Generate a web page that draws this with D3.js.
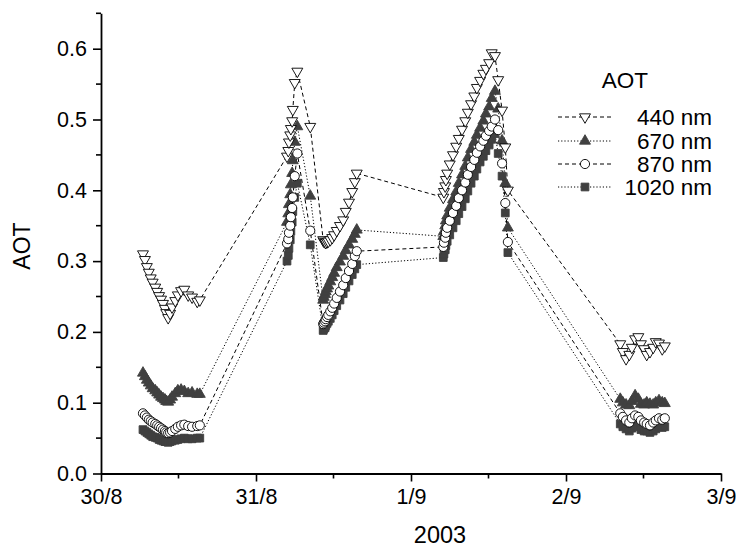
<!DOCTYPE html>
<html>
<head>
<meta charset="utf-8">
<script src="https://cdn.jsdelivr.net/npm/d3@7"></script>
<style>
  html, body { margin: 0; padding: 0; background: #fff; }
  svg { display: block; font-family: "Liberation Sans", Arial, sans-serif; }
</style>
</head>
<body>
<svg id="chart" width="736" height="547"></svg>
<script>
// Hours since 30/8/2003 00:00 (UTC)
const hours = [
  6.5,6.8,7.1,7.4,7.7,8.0,8.4,8.7,9.0,9.3,9.6,9.9,10.1,10.4,10.7,11.0,11.5,11.9,12.4,12.9,13.5,14.1,14.9,15.3,
  28.8,29.0,29.1,29.3,29.4,29.6,29.7,30.0,30.4,32.4,
  34.4,34.5,34.7,34.8,35.0,35.2,35.5,35.8,36.1,36.5,37.0,37.5,37.9,38.4,38.9,39.3,39.6,
  53.0,53.1,53.3,53.4,53.6,54.0,54.5,55.0,55.4,55.9,56.4,56.8,57.3,57.8,58.2,58.7,59.2,59.6,60.1,60.5,61.0,61.5,62.1,62.6,63.0,
  80.4,80.8,81.3,81.8,82.2,82.7,83.2,83.6,84.1,84.5,85.0,85.5,85.9,86.4,86.9,87.3
];
const aot440 = [
  0.31,0.302,0.292,0.284,0.276,0.27,0.263,0.257,0.251,0.246,0.24,0.233,0.227,0.22,0.226,0.235,0.244,0.252,0.258,0.26,0.252,0.249,0.243,0.245,
  0.448,0.456,0.468,0.478,0.487,0.498,0.514,0.552,0.568,0.49,
  0.33,0.328,0.327,0.326,0.327,0.328,0.33,0.333,0.337,0.343,0.35,0.358,0.37,0.383,0.398,0.412,0.424,
  0.39,0.398,0.406,0.415,0.424,0.437,0.45,0.462,0.473,0.486,0.498,0.51,0.522,0.533,0.545,0.555,0.565,0.572,0.58,0.594,0.59,0.556,0.513,0.461,0.40,
  0.183,0.172,0.162,0.168,0.178,0.19,0.193,0.183,0.176,0.168,0.172,0.178,0.186,0.184,0.176,0.18
];
const aot670 = [
  0.142,0.137,0.132,0.128,0.124,0.12,0.117,0.114,0.111,0.108,0.106,0.104,0.102,0.101,0.104,0.108,0.113,0.117,0.118,0.116,0.113,0.114,0.112,0.112,
  0.355,0.367,0.38,0.394,0.408,0.424,0.442,0.468,0.49,0.392,
  0.245,0.249,0.253,0.257,0.261,0.265,0.271,0.277,0.283,0.291,0.299,0.307,0.315,0.323,0.331,0.338,0.344,
  0.335,0.342,0.35,0.357,0.364,0.375,0.387,0.398,0.41,0.422,0.434,0.446,0.458,0.468,0.478,0.488,0.498,0.508,0.518,0.53,0.54,0.515,0.47,0.41,0.347,
  0.105,0.1,0.097,0.096,0.102,0.11,0.105,0.098,0.097,0.1,0.098,0.097,0.1,0.103,0.1,0.099
];
const aot870 = [
  0.085,0.082,0.079,0.076,0.074,0.072,0.07,0.068,0.066,0.064,0.062,0.06,0.058,0.057,0.058,0.06,0.063,0.066,0.068,0.069,0.067,0.066,0.067,0.068,
  0.325,0.331,0.34,0.35,0.362,0.375,0.39,0.42,0.452,0.343,
  0.211,0.213,0.215,0.218,0.221,0.224,0.229,0.234,0.24,0.248,0.257,0.266,0.276,0.286,0.296,0.307,0.314,
  0.32,0.326,0.333,0.34,0.347,0.357,0.368,0.378,0.389,0.4,0.411,0.422,0.433,0.443,0.453,0.462,0.47,0.477,0.484,0.49,0.5,0.485,0.438,0.382,0.327,
  0.085,0.08,0.075,0.072,0.078,0.082,0.08,0.075,0.072,0.07,0.068,0.072,0.075,0.078,0.076,0.078
];
const aot1020 = [
  0.062,0.06,0.058,0.056,0.054,0.052,0.051,0.05,0.048,0.047,0.046,0.045,0.045,0.044,0.045,0.046,0.047,0.048,0.049,0.05,0.049,0.049,0.05,0.05,
  0.30,0.308,0.318,0.33,0.342,0.355,0.37,0.39,0.41,0.323,
  0.202,0.204,0.206,0.209,0.212,0.215,0.219,0.224,0.23,0.237,0.245,0.254,0.263,0.272,0.281,0.289,0.295,
  0.305,0.31,0.316,0.322,0.328,0.337,0.347,0.357,0.367,0.377,0.388,0.399,0.41,0.42,0.43,0.44,0.448,0.456,0.464,0.472,0.48,0.452,0.42,0.368,0.312,
  0.07,0.066,0.063,0.06,0.064,0.068,0.066,0.062,0.06,0.06,0.058,0.06,0.063,0.066,0.065,0.066
];
const seriesNames = ["440 nm", "670 nm", "870 nm", "1020 nm"];
const xTickLabels = ["30/8", "31/8", "1/9", "2/9", "3/9"];
const yTicks = [0.0, 0.1, 0.2, 0.3, 0.4, 0.5, 0.6];
const xTitle = "2003";
const yTitle = "AOT";
const legendTitle = "AOT";

const t0 = Date.UTC(2003, 7, 30);
const toDate = h => new Date(t0 + h * 3600e3);

const svg = d3.select("#chart");
const x = d3.scaleUtc().domain([new Date(t0), toDate(96)]).range([101, 721]);
const y = d3.scaleLinear().domain([0, 0.65]).range([473.5, 13.3]);

const gray = "#404040";
const styles = [
  { values: aot440, dash: "4,3", symbol: d3.symbolTriangle, size: 52, rot: 180, fill: "#fff", stroke: "#000" },
  { values: aot670, dash: "1.2,2", symbol: d3.symbolTriangle, size: 52, rot: 0, fill: gray, stroke: gray },
  { values: aot870, dash: "4,3", symbol: d3.symbolCircle, size: 66, rot: 0, fill: "#fff", stroke: "#000" },
  { values: aot1020, dash: "1.2,2", symbol: d3.symbolSquare, size: 60, rot: 0, fill: gray, stroke: gray }
];

// Lines
const line = d3.line().x((d, i) => x(toDate(hours[i]))).y(d => y(d));
styles.forEach(s => {
  svg.append("path")
    .attr("d", line(s.values))
    .attr("fill", "none")
    .attr("stroke", "#000")
    .attr("stroke-width", 1)
    .attr("stroke-dasharray", s.dash);
});

// Markers (draw order: 1020, 670, 870, 440)
[3, 1, 2, 0].forEach(k => {
  const s = styles[k];
  const sym = d3.symbol().type(s.symbol).size(s.size);
  svg.append("g").selectAll("path")
    .data(s.values)
    .join("path")
    .attr("d", sym)
    .attr("transform", (d, i) => `translate(${x(toDate(hours[i]))},${y(d)}) rotate(${s.rot})`)
    .attr("fill", s.fill)
    .attr("stroke", s.stroke)
    .attr("stroke-width", 0.9);
});

// Axes
const dayTicks = d3.range(0, 5).map(d => toDate(d * 24));
const halfTicks = d3.range(0, 4).map(d => toDate(d * 24 + 12));
const xAxis = d3.axisBottom(x).tickValues(dayTicks).tickSize(8).tickSizeOuter(0)
  .tickFormat((d, i) => xTickLabels[i]);
const gx = svg.append("g").attr("transform", "translate(0,473.5)").call(xAxis);
gx.append("g").selectAll("line").data(halfTicks).join("line")
  .attr("x1", d => x(d)).attr("x2", d => x(d)).attr("y1", 0).attr("y2", 5)
  .attr("stroke", "#000").attr("stroke-width", 1.6);

const yAxis = d3.axisLeft(y).tickValues(yTicks).tickSize(8).tickSizeOuter(0)
  .tickFormat(d3.format(".1f"));
const gy = svg.append("g").attr("transform", "translate(101,0)").call(yAxis);
const yMinor = [0.05, 0.15, 0.25, 0.35, 0.45, 0.55, 0.65];
gy.append("g").selectAll("line").data(yMinor).join("line")
  .attr("x1", 0).attr("x2", -5).attr("y1", d => y(d)).attr("y2", d => y(d))
  .attr("stroke", "#000").attr("stroke-width", 1.6);

[gx, gy].forEach(g => {
  g.select(".domain").attr("stroke", "#000").attr("stroke-width", 1.8);
  g.selectAll(".tick line").attr("stroke", "#000").attr("stroke-width", 1.6);
  g.selectAll(".tick text").attr("fill", "#000")
    .attr("font-family", "'Liberation Sans', Arial, sans-serif");
});
gx.selectAll(".tick text").attr("font-size", 21.5).attr("dy", "0.92em");
gy.selectAll(".tick text").attr("font-size", 21.5).attr("x", -14);

// Titles
svg.append("text").attr("x", 440).attr("y", 543).attr("text-anchor", "middle")
  .attr("font-size", 23.5).text(xTitle);
svg.append("text").attr("transform", "translate(30,246) rotate(-90)")
  .attr("text-anchor", "middle").attr("font-size", 23).text(yTitle);

// Legend
svg.append("text").attr("x", 625).attr("y", 88).attr("text-anchor", "middle")
  .attr("font-size", 22.5).text(legendTitle);
const legendRows = [117, 141, 164, 187];
styles.forEach((s, k) => {
  const cy = legendRows[k];
  svg.append("line").attr("x1", 558).attr("x2", 612).attr("y1", cy).attr("y2", cy)
    .attr("stroke", "#000").attr("stroke-width", 1).attr("stroke-dasharray", s.dash);
  svg.append("path").attr("d", d3.symbol().type(s.symbol).size(s.size))
    .attr("transform", `translate(585,${cy}) rotate(${s.rot})`)
    .attr("fill", s.fill).attr("stroke", s.stroke).attr("stroke-width", 0.9);
  svg.append("text").attr("x", 712).attr("y", cy + 7.5).attr("text-anchor", "end")
    .attr("font-size", 22.5).text(seriesNames[k]);
});
</script>
</body>
</html>
